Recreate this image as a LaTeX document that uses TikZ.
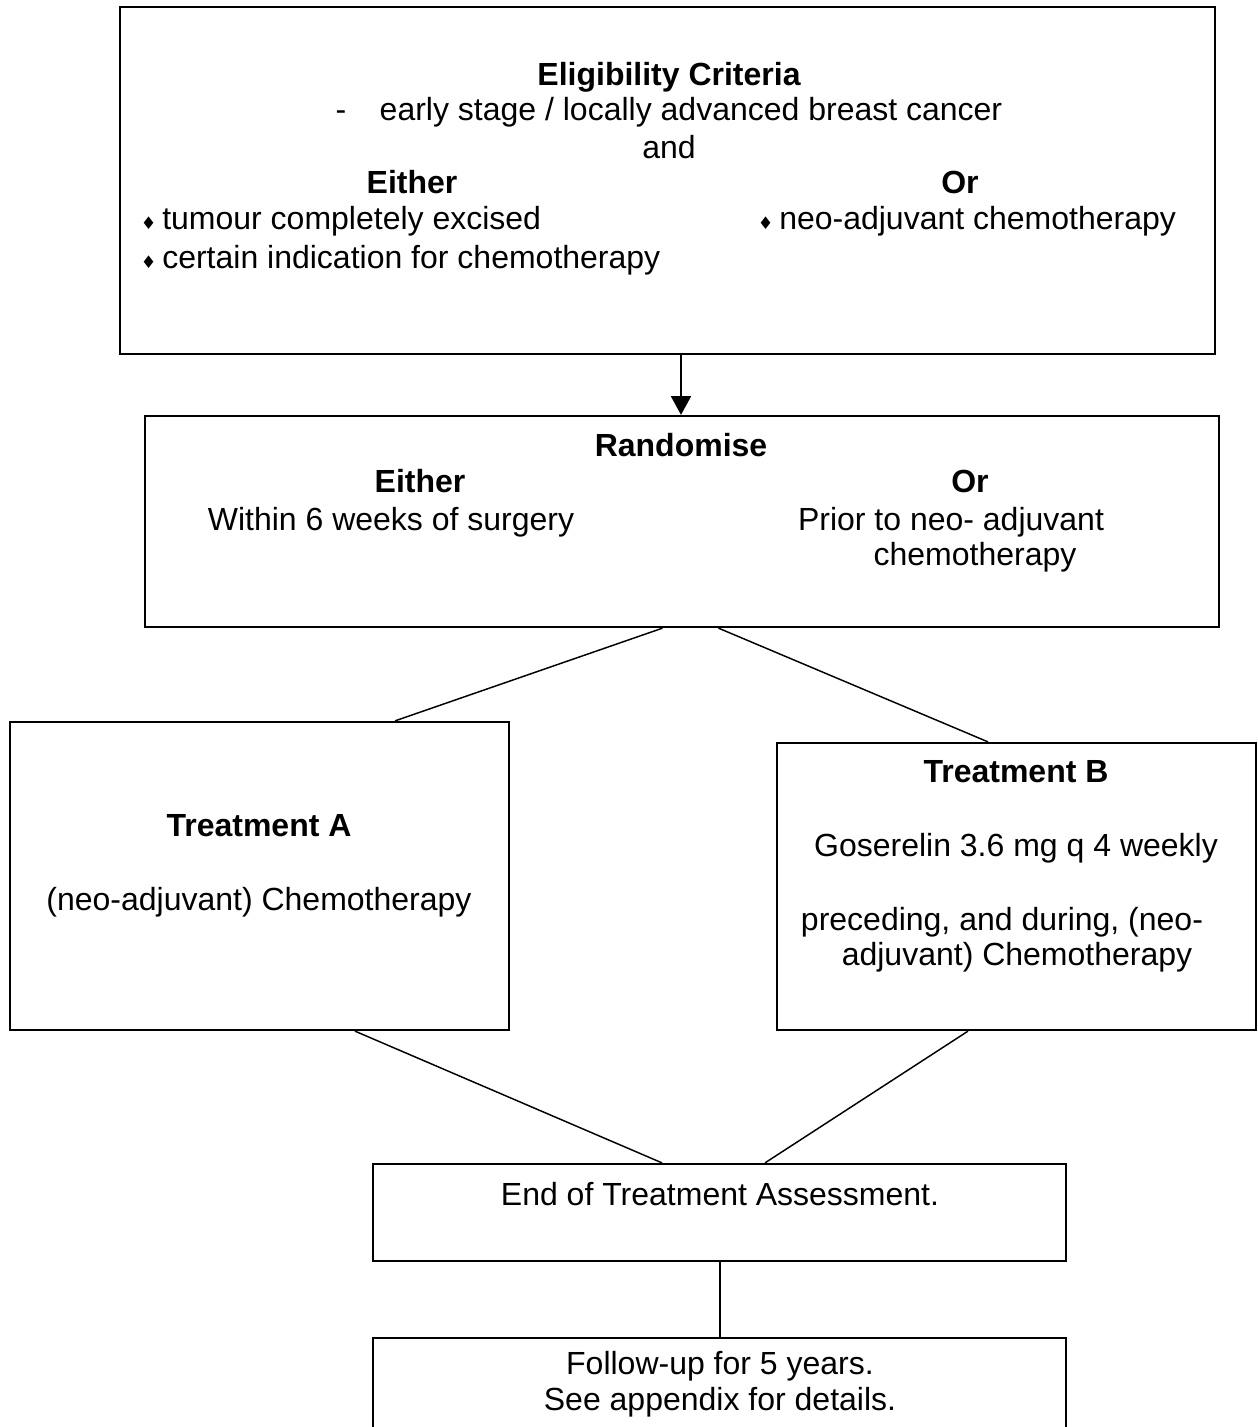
\documentclass[tikz,border=0pt]{standalone}
\usepackage{fontspec}
\setmainfont{Liberation Sans}
\newfontfamily\bulletfont{DejaVu Sans}
\usetikzlibrary{positioning, calc, fit, arrows.meta}
\newcommand{\dbul}{\hspace{-1pt}{\bulletfont\fontsize{6.5}{6.5}\selectfont ♦}\hspace{2.2pt}}

\begin{document}
\begin{tikzpicture}[x=0.375pt, y=-0.375pt, >={Triangle[width=7.5pt,length=7pt]},
    box/.style={draw, line width=0.85pt, inner sep=0pt},
    conn/.style={line width=0.55pt},
    txt/.style={anchor=base, inner sep=0pt, font=\fontsize{12}{14}\selectfont},
    hd/.style={txt, font=\fontsize{12}{14}\selectfont\bfseries}]
    % Page
    \useasboundingbox (0,0) rectangle (1258,1427);
    \clip (0,0) rectangle (1258,1427);

    % Boxes
    \node[box, fit={(120,7) (1215,354)}] (elig) {};
    \node[box, fit={(145,416) (1219,627)}] (rand) {};
    \node[box, fit={(10,722) (509,1030)}] (treatA) {};
    \node[box, fit={(777,743) (1256,1030)}] (treatB) {};
    \node[box, fit={(373,1164) (1066,1261)}] (endass) {};
    \node[box, fit={(373,1338) (1066,1480)}] (follow) {};

    % Eligibility text
    \node[hd] (eligT) at (669,85) {Eligibility Criteria};
    \node[txt] (eligDash) at (341,120) {-};
    \node[txt] (eligStage) at (691,120) {early stage / locally advanced breast cancer};
    \node[txt] (eligAnd) at (669,158) {and};
    \node[hd] (eligEither) at (412,193) {Either};
    \node[hd] (eligOr) at (960,193) {Or};
    \node[txt, anchor=base west] (eligA) at (143,229) {\dbul tumour completely excised};
    \node[txt, anchor=base west] (eligB) at (143,268) {\dbul certain indication for chemotherapy};
    \node[txt, anchor=base west] (eligC) at (760,229) {\dbul neo-adjuvant chemotherapy};

    % Randomise text
    \node[hd] (randT) at (681,456) {Randomise};
    \node[hd] (randEither) at (420,492) {Either};
    \node[hd] (randOr) at (970,492) {Or};
    \node[txt] (randA) at (391,530) {Within 6 weeks of surgery};
    \node[txt] (randB) at (951,530) {Prior to neo- adjuvant};
    \node[txt] (randC) at (975,565) {chemotherapy};

    % Treatment text
    \node[hd] (treatAT) at (259,836) {Treatment A};
    \node[txt] (treatAa) at (259,910) {(neo-adjuvant) Chemotherapy};
    \node[hd] (treatBT) at (1016,782) {Treatment B};
    \node[txt] (treatBa) at (1016,856) {Goserelin 3.6 mg q 4 weekly};
    \node[txt] (treatBb) at (1002,930) {preceding, and during, (neo-};
    \node[txt] (treatBc) at (1017,965) {adjuvant) Chemotherapy};

    % Assessment and follow-up text
    \node[txt] (endT) at (720,1205) {End of Treatment Assessment.};
    \node[txt] (followA) at (720,1374) {Follow-up for 5 years.};
    \node[txt] (followB) at (720,1410) {See appendix for details.};

    % Connectors
    \coordinate (eligOut) at ([xshift=13.5*0.375pt]elig.south);
    \draw[conn, ->] (eligOut) -- (eligOut |- rand.north);
    \draw[conn] ([xshift=-19.5*0.375pt]rand.south) -- ([xshift=135.5*0.375pt]treatA.north);
    \draw[conn] ([xshift=36.5*0.375pt]rand.south) -- ([xshift=-28.5*0.375pt]treatB.north);
    \draw[conn] ([xshift=95.5*0.375pt]treatA.south) -- ([xshift=-57.5*0.375pt]endass.north);
    \draw[conn] ([xshift=-48.5*0.375pt]treatB.south) -- ([xshift=45.5*0.375pt]endass.north);
    \draw[conn] ([xshift=0.5*0.375pt]endass.south) -- ([xshift=0.5*0.375pt]follow.north);
\end{tikzpicture}
\end{document}
